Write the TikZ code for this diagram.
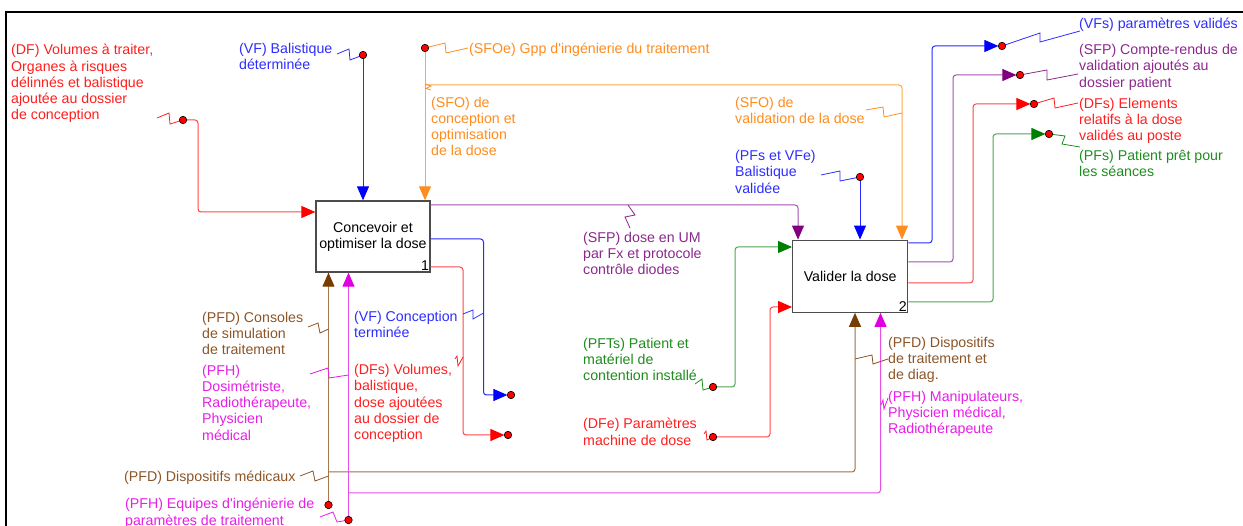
\documentclass[tikz,border=0pt]{standalone}
\usepackage{fontspec}
\setmainfont{Liberation Sans}[Ligatures=TeXOff]
\usetikzlibrary{arrows.meta}
\definecolor{cred}{RGB}{255,30,30}
\definecolor{lred}{RGB}{255,70,70}
\definecolor{cblue}{RGB}{45,45,255}
\definecolor{lblue}{RGB}{40,40,255}
\definecolor{cor}{RGB}{255,140,30}
\definecolor{lor}{RGB}{255,165,70}
\definecolor{cpur}{RGB}{140,40,140}
\definecolor{lpur}{RGB}{165,80,175}
\definecolor{apur}{RGB}{128,0,128}
\definecolor{cbr}{RGB}{140,85,40}
\definecolor{lbr}{RGB}{165,120,80}
\definecolor{abr}{RGB}{120,60,0}
\definecolor{cmag}{RGB}{230,30,230}
\definecolor{lmag}{RGB}{230,80,230}
\definecolor{amag}{RGB}{225,0,225}
\definecolor{cgr}{RGB}{30,140,30}
\definecolor{lgr}{RGB}{80,165,80}
\definecolor{agr}{RGB}{0,128,0}
\begin{document}
\begin{tikzpicture}[x=1pt,y=-1pt,
  txt/.style={font=\fontsize{14.2}{16.3}\selectfont},
  lbl/.style={txt,anchor=north west,inner sep=0pt,align=left},
  box/.style={draw=black!70,line width=1.3pt,fill=white,inner sep=0pt,align=center,txt},
  dot/.style={circle,fill=red,draw=black,line width=0.6pt,inner sep=0pt,minimum size=7.5pt},
  conn/.style={line width=1pt,rounded corners=3pt},
  tipc/.style={-{Triangle[length=14pt,width=12pt,color=#1]}},
  sq/.style={line width=0.8pt}
]
\useasboundingbox (0,0) rectangle (1243,526);
% frame
\draw[line width=2.6pt] (6,526) -- (6,12) -- (1243,12);

% boxes
\node[box,minimum width=114pt,minimum height=71pt] (b1) at (373,236.5) {Concevoir et\\optimiser la dose};
\node[txt,anchor=south east,inner sep=1.5pt] (n1) at (b1.south east) {1};
\node[box,minimum width=115pt,minimum height=72pt] (b2) at (850.2,276.2) {Valider la dose};
\node[txt,anchor=south east,inner sep=1.5pt] (n2) at (b2.south east) {2};

% end points (dots)
\coordinate (dDF) at (183,120);
\coordinate (dVF) at (363,55);
\coordinate (dSFOe) at (425,48);
\coordinate (dVFc) at (511,395);
\coordinate (dDFs) at (508,435);
\coordinate (dPFD) at (328.5,505);
\coordinate (dPFH) at (348.5,520);
\coordinate (dPFT) at (713,387);
\coordinate (dDFe) at (713,437);
\coordinate (dPV) at (860,177);
\coordinate (dVFs) at (1002,46);
\coordinate (dSFP) at (1020,75);
\coordinate (dDF2) at (1034,104);
\coordinate (dPFs) at (1049,134);

\coordinate (o2) at (902,85);
\coordinate (bb) at (855,472);
\coordinate (mm) at (880.5,493);

% connectors
\draw[conn,lred,tipc=red] (dDF) -- (198,120) |- (b1.west |- 0,212);
\draw[conn,lblue,tipc=blue] (dVF) -- (dVF |- b1.north);
\draw[conn,lor,tipc=cor] (dSFOe) -- (dSFOe |- b1.north);
\draw[conn,lor,tipc=cor] (dSFOe |- o2) -- (o2) -- (o2 |- b2.north);
\draw[conn,lpur,tipc=apur] (b1.east |- 0,205) -- (798,205) -- (798,0 |- b2.north);
\draw[conn,lblue,tipc=blue] (b1.east |- 0,239) -- (483.5,239) |- ([xshift=-3.6pt]dVFc);
\draw[conn,lred,tipc=red] (b1.east |- 0,267) -- (463,267) |- ([xshift=-3.6pt]dDFs);
\draw[conn,lbr,tipc=abr] (dPFD) -- (dPFD |- b1.south);
\draw[conn,cbr!85!white,tipc=abr] (dPFD |- bb) -- (bb) -- (bb |- b2.south);
\draw[conn,lmag,tipc=amag] (dPFH) -- (dPFH |- b1.south);
\draw[conn,lmag,tipc=amag] (dPFH |- mm) -- (mm) -- (mm |- b2.south);
\draw[conn,lgr,tipc=agr] (dPFT) -- (735,387) |- (b2.west |- 0,247);
\draw[conn,lred,tipc=red] (dDFe) -- (770,437) |- (b2.west |- 0,307);
\draw[conn,lblue,tipc=blue] (dPV) -- (dPV |- b2.north);
\draw[conn,lblue,tipc=blue] (b2.east |- 0,243) -- (932,243) |- ([xshift=-3.6pt]dVFs);
\draw[conn,lpur,tipc=apur] (b2.east |- 0,262) -- (953,262) |- ([xshift=-3.6pt]dSFP);
\draw[conn,lred,tipc=red] (b2.east |- 0,283) -- (973,283) |- ([xshift=-3.6pt]dDF2);
\draw[conn,lgr,tipc=agr] (b2.east |- 0,302) -- (993,302) |- ([xshift=-3.6pt]dPFs);

% squiggles
\draw[sq,cred] (157,118) -- (169,113) -- (170,124) -- (dDF);
\draw[sq,cblue] (337,54) -- (349,49) -- (350,60) -- (dVF);
\draw[sq,cor] (dSFOe) -- (445,43) -- (446,53) -- (468,48);
\draw[sq,cor] (425,84) -- (431,86) -- (426,88.5) -- (431,90);
\draw[sq,cor] (866,110) -- (883,107) -- (884,117) -- (902,113);
\draw[sq,cblue] (821,175) -- (840,171) -- (840,181) -- (dPV);
\draw[sq,cpur] (628,205) -- (635,215) -- (625,217) -- (630,228);
\draw[sq,cblue] (463,314) -- (473,310) -- (473,319) -- (483.5,313);
\draw[sq,cred] (455,359) -- (457,356) -- (458,366) -- (463,357);
\draw[sq,cbr] (308,327) -- (318,323) -- (320,333) -- (328.5,329);
\draw[sq,cmag] (310,374) -- (328,368) -- (329,378) -- (348.5,375);
\draw[sq,cbr] (300,476) -- (313,471) -- (315,481) -- (328.5,476);
\draw[sq,cmag] (320,517) -- (333,512) -- (337,522) -- (dPFH);
\draw[sq,cgr] (695,384) -- (702,379) -- (703,390) -- (dPFT);
\draw[sq,cred] (704,434) -- (706,431) -- (707,440) -- (dDFe);
\draw[sq,cbr] (855,359) -- (872,355) -- (873,364) -- (888,359);
\draw[sq,cmag] (881,405) -- (883,400) -- (884,409) -- (888,398);
\draw[sq,cblue] (dVFs) -- (1040,33) -- (1040,42) -- (1080,31);
\draw[sq,cpur] (dSFP) -- (1047,70) -- (1047,80) -- (1078,74);
\draw[sq,cred] (dDF2) -- (1054,98) -- (1055,108) -- (1078,103);
\draw[sq,cgr] (dPFs) -- (1065,136) -- (1062,144) -- (1080,147);

% dots on top
\foreach \d in {dDF,dVF,dSFOe,dVFc,dDFs,dPFD,dPFH,dPFT,dDFe,dPV,dVFs,dSFP,dDF2,dPFs}
  \node[dot] at (\d) {};

% labels
\node[lbl,cred] (lDF) at (11,44.1) {(DF) Volumes à traiter,\\Organes à risques\\délinnés et balistique\\ajoutée au dossier\\de conception};
\node[lbl,cblue] (lVF) at (239,43.1) {(VF) Balistique\\déterminée};
\node[lbl,cor] (lSFOe) at (469,42.6) {(SFOe) Gpp d'ingénierie du traitement};
\node[lbl,cor] (lSFO1) at (431,96.6) {(SFO) de\\conception et\\optimisation\\de la dose};
\node[lbl,cor] (lSFO2) at (735,96.6) {(SFO) de\\validation de la dose};
\node[lbl,cblue] (lPV) at (735,150.1) {(PFs et VFe)\\Balistique\\validée};
\node[lbl,cpur] (lSFP) at (583,231.6) {(SFP) dose en UM\\par Fx et protocole\\contrôle diodes};
\node[lbl,cblue] (lVFc) at (354,310.6) {(VF) Conception\\terminée};
\node[lbl,cred] (lDFs) at (354,364.1) {(DFs) Volumes,\\balistique,\\dose ajoutées\\au dossier de\\conception};
\node[lbl,cbr] (lPFD1) at (202,311.6) {(PFD) Consoles\\de simulation\\de traitement};
\node[lbl,cmag] (lPFH1) at (202,364.6) {(PFH)\\Dosimétriste,\\Radiothérapeute,\\Physicien\\médical};
\node[lbl,cbr] (lPFD2) at (124,470.6) {(PFD) Dispositifs médicaux};
\node[lbl,cmag] (lPFH2) at (125,498.1) {(PFH) Equipes d'ingénierie de\\paramètres de traitement};
\node[lbl,cgr] (lPFT) at (583,337.6) {(PFTs) Patient et\\matériel de\\contention installé};
\node[lbl,cred] (lDFe) at (583,418.1) {(DFe) Paramètres\\machine de dose};
\node[lbl,cbr] (lPFD3) at (888,336.6) {(PFD) Dispositifs\\de traitement et\\de diag.};
\node[lbl,cmag] (lPFH3) at (888,390.6) {(PFH) Manipulateurs,\\Physicien médical,\\Radiothérapeute};
\node[lbl,cblue] (lVFs) at (1079,17.6) {(VFs) paramètres validés};
\node[lbl,cpur] (lSFP2) at (1079,44.1) {(SFP) Compte-rendus de\\validation ajoutés au\\dossier patient};
\node[lbl,cred] (lDF2) at (1079,97.6) {(DFs) Elements\\relatifs à la dose\\validés au poste};
\node[lbl,cgr] (lPFs) at (1079,149.6) {(PFs) Patient prêt pour\\les séances};
\end{tikzpicture}
\end{document}
